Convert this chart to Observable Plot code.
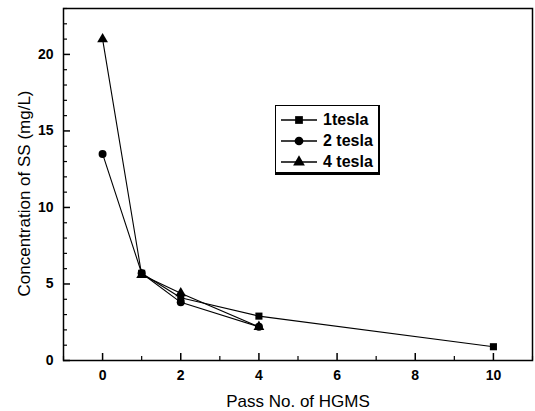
<!DOCTYPE html>
<html><head><meta charset="utf-8">
<script src="https://cdn.jsdelivr.net/npm/d3@7"></script>
<script src="https://cdn.jsdelivr.net/npm/@observablehq/plot@0.6"></script>
<style>
body{margin:0;background:#fff;font-family:"Liberation Sans",Arial,sans-serif;}
#wrap{position:relative;width:535px;height:411px;}
#legend{position:absolute;left:275px;top:105px;width:105px;height:70px;border:1.5px solid #000;border-bottom-width:3.5px;border-right-width:2px;background:#fff;box-sizing:border-box;padding-top:3px;}
.row{display:flex;align-items:center;height:21px;font-size:16px;font-weight:bold;}
.row svg{margin-left:3px;margin-right:4px;}
</style></head>
<body><div id="wrap"><div id="legend"></div></div>
<script>
const series = ["1tesla", "2 tesla", "4 tesla"];
const symbols = ["square", "circle", "triangle"];
const passT1 = [1, 2, 4, 10];
const ssT1 = [5.7, 4.1, 2.9, 0.9];
const passT2 = [0, 1, 2, 4];
const ssT2 = [13.5, 5.7, 3.8, 2.2];
const passT4 = [0, 1, 2, 4];
const ssT4 = [21.0, 5.6, 4.4, 2.2];
const xMajor = [0, 2, 4, 6, 8, 10];
const xMinor = [-1, 1, 3, 5, 7, 9, 11];
const yMajor = [0, 5, 10, 15, 20];
const yMinor = d3.range(1, 24).filter(v => v % 5 !== 0);

const data = [
  ...passT1.map((p, i) => ({s: series[0], x: p, y: ssT1[i]})),
  ...passT2.map((p, i) => ({s: series[1], x: p, y: ssT2[i]})),
  ...passT4.map((p, i) => ({s: series[2], x: p, y: ssT4[i]}))
];

const chart = Plot.plot({
  width: 535, height: 411,
  marginLeft: 63, marginTop: 8, marginRight: 3, marginBottom: 51,
  style: {fontFamily: "'Liberation Sans', Arial, sans-serif", color: "#000", background: "#fff"},
  x: {domain: [-1, 11]},
  y: {domain: [0, 23]},
  symbol: {domain: series, range: symbols},
  marks: [
    Plot.frame({stroke: "#000", strokeWidth: 1.5}),
    Plot.axisX({ticks: xMajor, tickSize: -7, tickPadding: 17, fontSize: 14, fontWeight: "bold", strokeWidth: 1.5,
      label: "Pass No. of HGMS", labelAnchor: "center", labelArrow: "none", labelOffset: 46}),
    Plot.axisX({ticks: xMinor, tickSize: -4, text: null, label: null, strokeWidth: 1.2}),
    Plot.axisY({ticks: yMajor, tickSize: -7, tickPadding: 17, fontSize: 14, fontWeight: "bold", strokeWidth: 1.5,
      label: "Concentration of SS (mg/L)", labelAnchor: "center", labelArrow: "none", labelOffset: 46}),
    Plot.axisY({ticks: yMinor, tickSize: -4, text: null, label: null, strokeWidth: 1.2}),
    Plot.line(data, {x: "x", y: "y", z: "s", stroke: "#000", strokeWidth: 1.1}),
    Plot.dot(data, {x: "x", y: "y", symbol: "s", fill: "#000", r: 4})
  ]
});
chart.querySelectorAll('[aria-label="x-axis tick label"], [aria-label="y-axis tick label"]').forEach(g => {
  g.setAttribute("font-size", "14"); g.style.fontSize = "14px"; g.setAttribute("font-weight", "bold");
  g.querySelectorAll("text").forEach(t => { t.style.fontSize = "14px"; t.style.fontWeight = "bold"; });
});
chart.querySelectorAll('[aria-label="x-axis label"] text, [aria-label="y-axis label"] text').forEach(t => {
  t.setAttribute("font-size", "17"); t.style.fontSize = "17px"; t.style.fontWeight = "normal";
});
chart.querySelectorAll('[aria-label="y-axis label"] text').forEach(t => {
  t.setAttribute("transform", "translate(0,9) " + (t.getAttribute("transform") || ""));
});
document.getElementById("wrap").prepend(chart);

const leg = document.getElementById("legend");
const sym = d3.scaleOrdinal(series, [d3.symbolSquare, d3.symbolCircle, d3.symbolTriangle]);
series.forEach(s => {
  const row = document.createElement("div");
  row.className = "row";
  const svg = d3.create("svg").attr("width", 40).attr("height", 14);
  svg.append("line").attr("x1", 2).attr("x2", 38).attr("y1", 7).attr("y2", 7).attr("stroke", "#000").attr("stroke-width", 1.5);
  svg.append("path").attr("transform", "translate(20,7)").attr("d", d3.symbol(sym(s), 60)()).attr("fill", "#000");
  row.appendChild(svg.node());
  const span = document.createElement("span");
  span.textContent = s;
  row.appendChild(span);
  leg.appendChild(row);
});
</script></body></html>
